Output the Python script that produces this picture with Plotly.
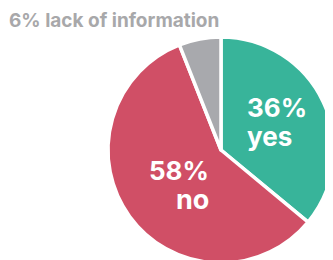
import plotly.graph_objects as go

labels = ["yes", "no", "lack of information"]
values = [36, 58, 6]
colors = ["#38B49A", "#D04F66", "#A8A9AD"]

W, H = 333, 260
OFF = 8  # default page body margin

def px(x):
    return (x - OFF) / W

def py(y):
    return 1 - (y - OFF) / H

fig = go.Figure()
fig.add_trace(go.Pie(
    labels=labels, values=values, sort=False, direction="clockwise", rotation=0,
    marker=dict(colors=colors, line=dict(color="white", width=3.5)),
    textinfo="none", hoverinfo="label+percent", showlegend=False,
    domain=dict(x=[px(108), px(334)], y=[py(263), py(37)]),
))

font = "Inter"
fig.add_annotation(x=px(7), y=py(20), xref="paper", yref="paper", xanchor="left", yanchor="middle",
                   text=f"<b>{values[2]}% {labels[2]}</b>", showarrow=False,
                   font=dict(family=font, size=19, color="#A8A8AA"))
# yes
fig.add_annotation(x=px(245), y=py(108), xref="paper", yref="paper", xanchor="left", yanchor="middle",
                   text=f"<b>{values[0]}%</b>", showarrow=False, font=dict(family=font, size=26, color="white"))
fig.add_annotation(x=px(245), y=py(136), xref="paper", yref="paper", xanchor="left", yanchor="middle",
                   text=f"<b>{labels[0]}</b>", showarrow=False, font=dict(family=font, size=26, color="white"))
# no
fig.add_annotation(x=px(211), y=py(170), xref="paper", yref="paper", xanchor="right", yanchor="middle",
                   text=f"<b>{values[1]}%</b>", showarrow=False, font=dict(family=font, size=26, color="white"))
fig.add_annotation(x=px(211), y=py(199), xref="paper", yref="paper", xanchor="right", yanchor="middle",
                   text=f"<b>{labels[1]}</b>", showarrow=False, font=dict(family=font, size=27, color="white"))

fig.update_layout(width=W, height=H, margin=dict(l=0, r=0, t=0, b=0),
                  paper_bgcolor="white", plot_bgcolor="white")
fig.write_html("out.html")
